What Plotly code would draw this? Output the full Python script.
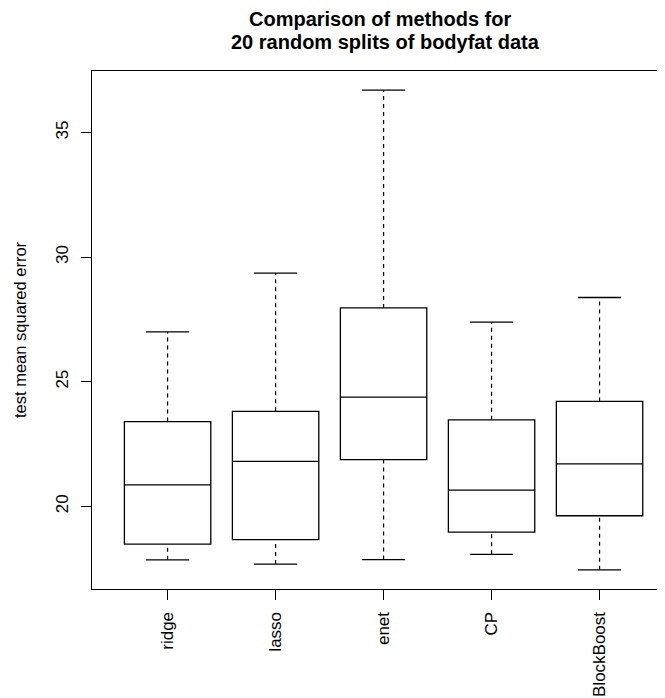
import plotly.graph_objects as go

# ---- data ----
methods = ["ridge", "lasso", "enet", "CP", "BlockBoost"]
lower_whisker = [17.85, 17.68, 17.86, 18.07, 17.45]
q1_values = [18.48, 18.66, 21.87, 18.96, 19.62]
medians = [20.86, 21.80, 24.38, 20.65, 21.70]
q3_values = [23.40, 23.81, 27.96, 23.47, 24.21]
upper_whisker = [27.00, 29.36, 36.70, 27.39, 28.38]
y_ticks = [20, 25, 30, 35]

title_line1 = "Comparison of methods for"
title_line2 = "20 random splits of bodyfat data"
y_label = "test mean squared error"

positions = list(range(1, len(methods) + 1))
FONT = "Liberation Sans, Arial, Helvetica, sans-serif"
BOX_W = 0.8
CAP_HALF = 0.2

# dashed whisker stems
wx, wy = [], []
for p, lo, a, b, hi in zip(positions, lower_whisker, q1_values, q3_values, upper_whisker):
    wx += [p, p, None, p, p, None]
    wy += [b, hi, None, lo, a, None]

# solid caps
cx, cy = [], []
for p, lo, hi in zip(positions, lower_whisker, upper_whisker):
    cx += [p - CAP_HALF, p + CAP_HALF, None, p - CAP_HALF, p + CAP_HALF, None]
    cy += [hi, hi, None, lo, lo, None]

fig = go.Figure()
fig.add_trace(go.Scatter(x=wx, y=wy, mode="lines",
                         line=dict(color="black", width=1.2, dash="4px,4px"),
                         hoverinfo="skip", showlegend=False))
fig.add_trace(go.Scatter(x=cx, y=cy, mode="lines",
                         line=dict(color="black", width=1.3),
                         hoverinfo="skip", showlegend=False))
fig.add_trace(go.Box(x=positions, q1=q1_values, median=medians, q3=q3_values,
                     lowerfence=q1_values, upperfence=q3_values,
                     width=BOX_W, whiskerwidth=0, fillcolor="white",
                     line=dict(color="black", width=1.3),
                     boxpoints=False, hoverinfo="skip", showlegend=False))

fig.update_layout(
    width=657, height=690,
    margin=dict(l=84, r=0, t=63, b=109),
    paper_bgcolor="white", plot_bgcolor="white",
    font=dict(family=FONT, size=17, color="black"),
    showlegend=False,
)
fig.update_xaxes(range=[0.3, 5.606], tickmode="array", tickvals=positions, ticktext=methods,
                 tickangle=-90, ticks="outside", ticklen=10, tickwidth=1.2, tickcolor="black",
                 showline=True, linecolor="black", linewidth=1.3, mirror=True,
                 showgrid=False, zeroline=False, tickfont=dict(size=17),
                 ticklabelstandoff=5)
fig.update_yaxes(range=[16.68, 37.47], tickmode="array", tickvals=y_ticks,
                 ticktext=[str(v) for v in y_ticks], tickangle=-90,
                 ticks="outside", ticklen=10, tickwidth=1.2, tickcolor="black",
                 showline=True, linecolor="black", linewidth=1.3, mirror=False,
                 showgrid=False, zeroline=False, tickfont=dict(size=17),
                 ticklabelstandoff=6)

fig.add_annotation(text=y_label, textangle=-90, xref="paper", yref="paper",
                   x=0, y=0.5, xshift=-72, xanchor="center", yanchor="middle",
                   showarrow=False, font=dict(size=16.5))
fig.add_annotation(text=title_line1, xref="paper", yref="paper", x=(380 - 92) / 573, y=1,
                   yshift=52, xanchor="center", yanchor="middle", showarrow=False,
                   font=dict(size=20, weight="bold"))
fig.add_annotation(text=title_line2, xref="paper", yref="paper", x=(385 - 92) / 573, y=1,
                   yshift=29, xanchor="center", yanchor="middle", showarrow=False,
                   font=dict(size=20, weight="bold"))

fig.write_html("out.html")
